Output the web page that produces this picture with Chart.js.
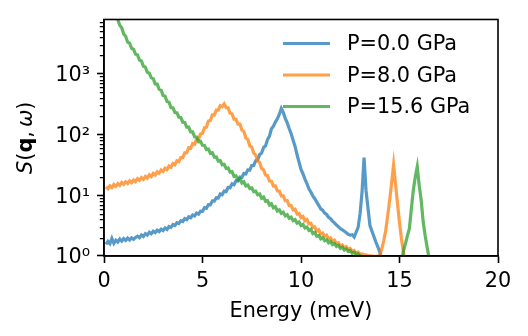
<!DOCTYPE html>
<html><head><meta charset="utf-8">
<script src="https://cdn.jsdelivr.net/npm/chart.js@4/dist/chart.umd.min.js"></script>
<style>html,body{margin:0;padding:0;background:#fff;}canvas{display:block;}</style>
</head><body>
<canvas id="c" width="528" height="336"></canvas>
<script>
// Energy transfer (meV)
const energy = [
  0.1,0.2,0.3,0.4,0.5,0.6,0.7,0.8,0.9,1.0,
  1.1,1.2,1.3,1.4,1.5,1.6,1.7,1.8,1.9,2.0,
  2.1,2.2,2.3,2.4,2.5,2.6,2.7,2.8,2.9,3.0,
  3.1,3.2,3.3,3.4,3.5,3.6,3.7,3.8,3.9,4.0,
  4.1,4.2,4.3,4.4,4.5,4.6,4.7,4.8,4.9,5.0,
  5.1,5.2,5.3,5.4,5.5,5.6,5.7,5.8,5.9,6.0,
  6.1,6.2,6.3,6.4,6.5,6.6,6.7,6.8,6.9,7.0,
  7.1,7.2,7.3,7.4,7.5,7.6,7.7,7.8,7.9,8.0,
  8.1,8.2,8.3,8.4,8.5,8.6,8.7,8.8,8.9,9.0,
  9.1,9.2,9.3,9.4,9.5,9.6,9.7,9.8,9.9,10.0,
  10.1,10.2,10.3,10.4,10.5,10.6,10.7,10.8,10.9,11.0,
  11.1,11.2,11.3,11.4,11.5,11.6,11.7,11.8,11.9,12.0,
  12.1,12.2,12.3,12.4,12.5,12.6,12.7,12.8,12.9,13.0,
  13.1,13.2,13.3,13.4,13.5,13.6,13.7,13.8,13.9,14.0,
  14.1,14.2,14.3,14.4,14.5,14.6,14.7,14.8,14.9,15.0,
  15.1,15.2,15.3,15.4,15.5,15.6,15.7,15.8,15.9,16.0,
  16.1,16.2,16.3,16.4,16.5,16.6
];
// S(q, w) at P = 0.0 GPa
const sP00 = [
  1.55,1.74,1.60,1.95,1.62,1.82,1.70,1.90,1.76,1.93,
  1.80,1.97,1.84,1.99,1.88,2.02,2.12,2.00,2.22,2.10,
  2.33,2.21,2.46,2.32,2.55,2.42,2.66,2.53,2.77,2.63,
  2.90,2.74,3.06,2.96,3.29,3.17,3.52,3.42,3.81,3.70,
  4.12,3.97,4.41,4.26,4.73,4.56,5.07,4.88,5.45,5.42,
  6.25,6.09,7.02,6.98,8.07,8.01,9.07,8.98,10.5,10.2,
  11.7,11.5,13.4,13.3,15.4,14.9,17.3,17.1,19.9,19.6,
  22.9,22.4,26.1,25.9,30.8,31.0,37.0,38.3,46.6,49.3,
  61.2,64.9,82.4,93.8,124,137,160,181,215,268,
  230,184,156,125,103,80.5,63.5,46.3,35.0,26.6,
  22.6,18.4,15.6,12.8,11.3,9.70,8.77,7.70,6.82,5.97,
  5.67,5.09,4.82,4.34,4.10,3.76,3.50,3.22,3.04,2.81,
  2.70,2.55,2.41,2.27,2.20,2.24,2.06,2.46,2.95,5.01,
  11.5,41.7,12.0,6.17,3.16,2.57,2.09,1.70,1.41,1.17,
  0.83,0.60,null,null,null,null,null,null,null,null,
  null,null,null,null,null,null,null,null,null,null,
  null,null,null,null,null,null
];
// S(q, w) at P = 8.0 GPa
const sP80 = [
  13.7,12.8,14.3,13.4,15.0,14.0,15.5,14.5,16.2,15.1,
  16.6,15.6,17.2,16.1,17.8,16.7,18.7,17.5,19.5,18.3,
  20.4,19.2,21.6,20.3,22.9,21.5,24.3,23.0,26.0,24.6,
  27.8,26.4,30.2,28.9,33.2,31.7,36.8,35.6,41.7,41.6,
  50.1,50.3,60.3,59.0,70.9,69.2,83.2,83.3,102,105,
  129,132,166,170,210,209,252,252,297,286,
  318,276,275,224,219,178,178,148,148,118,
  112,87.3,83.2,64.7,61.8,49.1,45.8,36.4,34.7,27.6,
  26.3,21.5,21.0,17.1,17.0,14.1,14.2,11.8,11.7,9.75,
  9.78,8.14,8.14,6.78,6.77,5.77,5.89,4.92,5.01,4.28,
  4.47,3.81,3.98,3.40,3.46,2.96,3.02,2.57,2.69,2.30,
  2.39,2.10,2.19,1.91,1.99,1.75,1.82,1.59,1.65,1.45,
  1.52,1.36,1.42,1.27,1.33,1.18,1.23,1.11,1.16,1.07,
  1.08,1.04,1.04,1.02,1.01,1.00,0.99,0.98,1.00,1.02,
  1.30,1.78,2.63,4.57,8.32,15.8,31.6,15.1,7.24,3.55,
  1.91,1.17,0.71,null,null,null,null,null,null,null,
  null,null,null,null,null,null
];
// S(q, w) at P = 15.6 GPa
const sP156 = [
  20000,17000,14500,12300,10500,8900,7750,6250,5700,4500,
  4140,3300,3180,2620,2530,2100,2030,1670,1615,1325,
  1283,1053,1018,855,829,679,675,552,536,438,
  425,348,338,276,275,230,228,192,190,159,
  158,132,132,110,110,91.5,91.0,76.1,77.4,66.3,
  66.0,56.4,57.5,49.1,50.1,42.3,42.6,36.4,37.1,31.7,
  32.3,27.6,28.1,24.0,24.5,20.5,20.9,17.8,18.6,15.9,
  16.6,14.2,14.7,12.9,13.2,11.5,11.7,10.2,10.5,8.93,
  9.32,7.97,8.12,6.93,7.23,6.19,6.45,5.51,5.75,5.03,
  5.24,4.58,4.77,4.18,4.35,3.81,3.97,3.47,3.62,3.17,
  3.30,2.89,3.00,2.64,2.75,2.34,2.44,2.12,2.18,1.92,
  2.01,1.79,1.85,1.65,1.73,1.54,1.60,1.44,1.50,1.34,
  1.40,1.25,1.31,1.19,1.23,1.11,1.15,1.05,1.08,1.00,
  0.98,0.93,0.89,0.83,null,null,null,null,null,null,
  null,null,null,null,null,null,null,null,null,0.63,
  0.79,1.20,1.58,2.14,2.82,5.89,12.0,20.0,29.5,14.5,
  8.32,3.72,2.19,1.41,0.93,0.70
];
const seriesLabels = ['P=0.0 GPa', 'P=8.0 GPa', 'P=15.6 GPa'];
const seriesColors = ['rgba(31,119,180,0.75)', 'rgba(255,127,14,0.75)', 'rgba(44,160,44,0.75)'];
const xTickValues = [0, 5, 10, 15, 20];
const yMajorTicks = [1, 10, 100, 1000];
const yTickLabels = ['10\u2070', '10\u00B9', '10\u00B2', '10\u00B3'];

const FONT = '"DejaVu Sans", sans-serif';
const FS = 20.8;

function pairs(vals) { return energy.map((e, i) => ({ x: e, y: vals[i] })); }
const seriesValues = [sP00, sP80, sP156];

const frameAndExtras = {
  id: 'frameAndExtras',
  afterDatasetsDraw(chart) {
    const ctx = chart.ctx, a = chart.chartArea, ys = chart.scales.y;
    ctx.save();
    ctx.strokeStyle = '#000';
    ctx.lineWidth = 1.25;
    ctx.beginPath();
    for (let k = 0; k < 5; k++) {
      for (let m = 2; m <= 9; m++) {
        const v = m * Math.pow(10, k);
        if (v > ys.max) continue;
        const y = Math.round(ys.getPixelForValue(v)) + 0.5;
        ctx.moveTo(a.left - 4.2, y);
        ctx.lineTo(a.left, y);
      }
    }
    ctx.stroke();
    ctx.lineWidth = 1.6;
    ctx.strokeRect(a.left, a.top, a.right - a.left, a.bottom - a.top);
    const rows = [43.5, 75, 106.5];
    chart.data.datasets.forEach((ds, i) => {
      ctx.strokeStyle = ds.borderColor;
      ctx.lineWidth = 3;
      ctx.beginPath();
      ctx.moveTo(283, rows[i]);
      ctx.lineTo(330, rows[i]);
      ctx.stroke();
      ctx.fillStyle = '#000';
      ctx.font = FS + 'px ' + FONT;
      ctx.textBaseline = 'middle';
      ctx.textAlign = 'left';
      ctx.fillText(ds.label, 347, rows[i] + 1.5);
    });
    const parts = [
      ['S', 'italic '], ['(', ''], ['q', 'bold '], [',', ''], [' ', ''], ['\u03C9', 'italic '], [')', '']
    ];
    ctx.translate(27, (a.top + a.bottom) / 2);
    ctx.rotate(-Math.PI / 2);
    let total = 0;
    const widths = parts.map(p => { ctx.font = p[1] + FS + 'px ' + FONT; let w = ctx.measureText(p[0]).width; if (p[0] === ' ') w *= 0.6; total += w; return w; });
    let x = -total / 2;
    ctx.fillStyle = '#000';
    ctx.textBaseline = 'middle';
    ctx.textAlign = 'left';
    parts.forEach((p, i) => {
      ctx.font = p[1] + FS + 'px ' + FONT;
      if (p[0] !== ' ') ctx.fillText(p[0], x, 0);
      x += widths[i];
    });
    ctx.restore();
  }
};

new Chart(document.getElementById('c'), {
  type: 'line',
  data: {
    datasets: seriesValues.map((vals, i) => ({
      label: seriesLabels[i],
      data: pairs(vals),
      borderColor: seriesColors[i],
      backgroundColor: seriesColors[i],
      borderWidth: 3.2,
      pointRadius: 0,
      tension: 0,
      fill: false,
      spanGaps: false,
      clip: 0,
      order: 2 - i
    }))
  },
  options: {
    responsive: false,
    animation: false,
    devicePixelRatio: 1,
    layout: { padding: { top: 16, right: 30, left: 0, bottom: 0 } },
    plugins: { legend: { display: false }, tooltip: { enabled: false } },
    scales: {
      x: {
        type: 'linear', min: 0, max: 20,
        afterBuildTicks: s => { s.ticks = xTickValues.map(v => ({ value: v })); },
        afterFit: s => { s.height = 80; },
        ticks: { font: { family: FONT, size: FS }, color: '#000', padding: 6, maxRotation: 0, autoSkip: false },
        grid: { drawOnChartArea: false, tickLength: 7, tickColor: '#000', tickWidth: 1.6 },
        border: { color: '#000', width: 1.6 },
        title: { display: true, text: 'Energy (meV)', color: '#000', font: { family: FONT, size: FS }, padding: { top: 0, bottom: 12 } }
      },
      y: {
        type: 'logarithmic', min: 1, max: 7800,
        afterBuildTicks: s => { s.ticks = yMajorTicks.map(v => ({ value: v })); },
        afterFit: s => { s.width = 104; },
        ticks: {
          font: { family: FONT, size: FS }, color: '#000', padding: 7, labelOffset: 2, autoSkip: false,
          callback: (v) => { const i = yMajorTicks.indexOf(v); return i >= 0 ? yTickLabels[i] : ''; }
        },
        grid: { drawOnChartArea: false, tickLength: 7, tickColor: '#000', tickWidth: 1.6 },
        border: { color: '#000', width: 1.6 }
      }
    }
  },
  plugins: [frameAndExtras]
});
</script>
</body></html>
